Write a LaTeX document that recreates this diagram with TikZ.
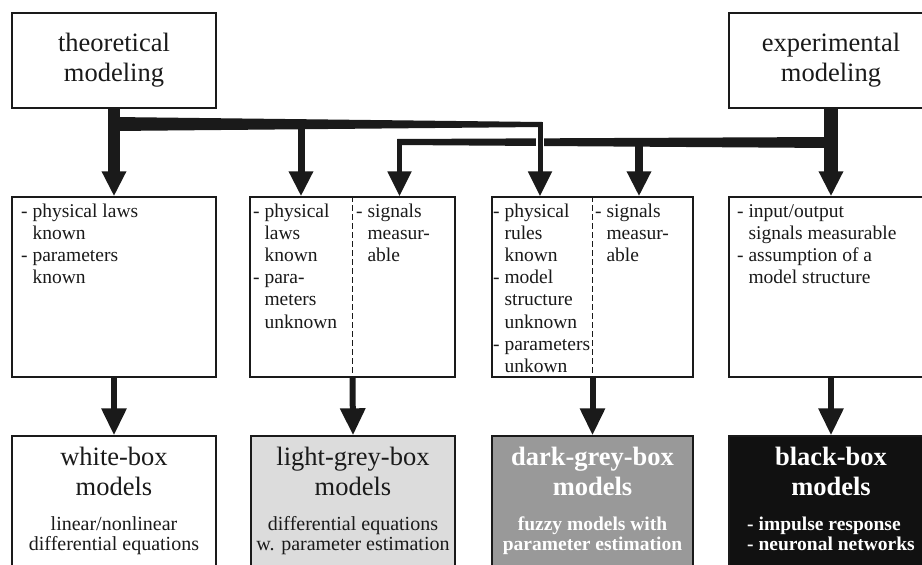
\documentclass[tikz,border=0pt]{standalone}
\usepackage{fontspec}
\setmainfont{Liberation Serif}
\usetikzlibrary{arrows.meta}

\definecolor{ink}{HTML}{1A1A1A}
\definecolor{lightgrey}{HTML}{DCDCDC}
\definecolor{darkgrey}{HTML}{999999}
\definecolor{blackbox}{HTML}{111111}

% font sizes (1pt of the picture = one unit of the grid)
\newcommand\headfont{\fontsize{26.5}{30}\selectfont}
\newcommand\listfont{\fontsize{19.5}{22.2}\selectfont}
\newcommand\notefont{\fontsize{20}{20}\selectfont}
\newcommand\boldnotefont{\fontsize{19.5}{20}\selectfont\bfseries}
% hanging indent for continued list lines
\newcommand\cont{\hphantom{-}\hspace{0.25em}}
% stacked lines whose reference point is the first baseline
\newcommand\leftlines[1]{\begin{tabular}[t]{@{}l@{}}#1\end{tabular}}
\newcommand\midlines[1]{\begin{tabular}[t]{@{}c@{}}#1\end{tabular}}

\tikzset{
  box/.style={draw=ink, line width=1.4pt, inner sep=0pt},
  listtext/.style={anchor=base west, inner sep=0pt, text=ink, font=\listfont},
  headtext/.style={anchor=base, inner sep=0pt, font=\headfont},
  notetext/.style={anchor=base, inner sep=0pt, font=\notefont},
  bigtip/.style={-{Triangle[width=23pt,length=25pt]}},
  downtip/.style={-{Triangle[width=24pt,length=27pt]}},
  divider/.style={draw=ink, line width=1.3pt, dash pattern=on 6pt off 3pt},
}

\begin{document}
\begin{tikzpicture}[x=1pt, y=-1pt]
\useasboundingbox (0,0) rectangle (922,565);
\clip (0,0) rectangle (922,565);
\fill[white] (0,0) rectangle (922,565);

% ---- top: the two ways of modelling
\node[box, minimum width=204pt, minimum height=95pt, align=center,
      font=\headfont, text=ink] (theo) at (114,60.5) {theoretical\\modeling};
\node[box, minimum width=204pt, minimum height=95pt, align=center,
      font=\headfont, text=ink] (exper) at (831,60.5) {experimental\\modeling};

% ---- middle: prior knowledge
\node[box, minimum width=204pt, minimum height=180pt] (m1) at (114,287) {};
\node[box, minimum width=205pt, minimum height=180pt] (m2) at (352.5,287) {};
\node[box, minimum width=201pt, minimum height=180pt] (m3) at (592.5,287) {};
\node[box, minimum width=204pt, minimum height=180pt] (m4) at (831,287) {};
\draw[divider] (m2.north) -- (m2.south);
\draw[divider] (m3.north) -- (m3.south);

\node[listtext] (m1a) at (21,217)
  {\leftlines{- physical laws\\\cont known\\- parameters\\\cont known}};
\node[listtext] (m2a) at (253,217)
  {\leftlines{- physical\\\cont laws\\\cont known\\- para-\\\cont meters\\\cont unknown}};
\node[listtext] (m2b) at (356,217)
  {\leftlines{- signals\\\cont measur-\\\cont able}};
\node[listtext] (m3a) at (493,217)
  {\leftlines{- physical\\\cont rules\\\cont known\\- model\\\cont structure\\\cont unknown\\- parameters\\\cont unkown}};
\node[listtext] (m3b) at (595,217)
  {\leftlines{- signals\\\cont measur-\\\cont able}};
\node[listtext] (m4a) at (737,217)
  {\leftlines{- input/output\\\cont signals measurable\\- assumption of a\\\cont model structure}};

% ---- bottom: resulting model classes
\node[box, fill=white, minimum width=204pt, minimum height=164pt] (b1) at (114,518) {};
\node[box, fill=lightgrey, minimum width=204pt, minimum height=164pt] (b2) at (353,518) {};
\node[box, fill=darkgrey, minimum width=201pt, minimum height=164pt] (b3) at (592.5,518) {};
\node[box, fill=blackbox, minimum width=204pt, minimum height=164pt] (b4) at (831,518) {};

\node[headtext, text=ink] (b1h) at (114,465) {\midlines{white-box\\models}};
\node[notetext, text=ink] (b1n) at (114,530) {\midlines{linear/nonlinear\\differential equations}};
\node[headtext, text=ink] (b2h) at (353,465) {\midlines{light-grey-box\\models}};
\node[notetext, text=ink] (b2n) at (353,530) {\midlines{differential equations\\w. parameter estimation}};
\node[headtext, text=white, font=\headfont\bfseries] (b3h) at (592.5,465) {\midlines{dark-grey-box\\models}};
\node[notetext, text=white, font=\boldnotefont] (b3n) at (592.5,530) {\midlines{fuzzy models with\\parameter estimation}};
\node[headtext, text=white, font=\headfont\bfseries] (b4h) at (831,465) {\midlines{black-box\\models}};
\node[notetext, text=white, font=\boldnotefont] (b4n) at (831,530) {\leftlines{- impulse response\\- neuronal networks}};

% ---- distribution bars
\coordinate (t2) at (301,124);
\coordinate (t3) at (540,122);
\coordinate (e2) at (399.5,139);
\coordinate (e3) at (639,142);

% bar of the experimental branch (thins out to the left)
\fill[ink] (831,137) -- (397,139) -- (397,145) -- (831,148) -- cycle;
% bar of the theoretical branch (thins out to the right)
\fill[ink] (114,117) -- (542,122) -- (542,127) -- (114,131) -- cycle;
% small gap where the theoretical line passes over the other bar
\draw[white, line width=8pt] (540,133) -- (540,152);

\draw[ink, line width=12pt, bigtip] (theo.south) -- (m1.north);
\draw[ink, line width=14pt, bigtip] (exper.south) -- (m4.north);
\draw[ink, line width=7pt, bigtip] (t2) -- (t2 |- m2.north);
\draw[ink, line width=5pt, bigtip] (t3) -- (t3 |- m3.north);
\draw[ink, line width=5pt, bigtip] (e2) -- (e2 |- m2.north);
\draw[ink, line width=8pt, bigtip] (e3) -- (e3 |- m3.north);

% ---- from knowledge to model class
\draw[ink, line width=6pt, downtip] (m1.south) -- (b1.north);
\draw[ink, line width=6pt, downtip] (m2.south) -- (b2.north);
\draw[ink, line width=6pt, downtip] (m3.south) -- (b3.north);
\draw[ink, line width=6pt, downtip] (m4.south) -- (b4.north);
\end{tikzpicture}
\end{document}
